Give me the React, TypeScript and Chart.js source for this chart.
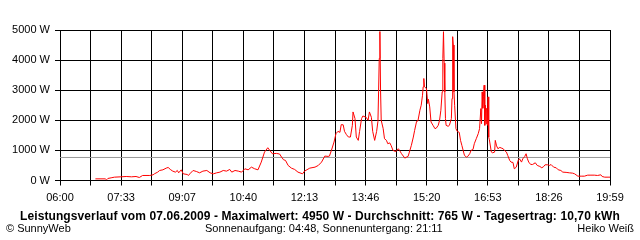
import React, { useEffect, useRef } from "react";
import { Chart, registerables } from "chart.js";

Chart.register(...registerables);

// minutes since midnight
const TIMES = [414,429,431,433,438,443,453,461,469,476,481,486,497,502,504,509,512,517,522,525,529,532,536,539,541,545,548,554,556,558,563,568,573,578,584,589,594,599,604,609,614,619,622,627,632,637,642,647,652,657,662,667,672,677,680,684,690,695,698,701,704,708,713,718,723,730,733,741,749,754,759,764,769,771,774,778,781,784,787,789,792,794,797,800,803,806,807,810,812,815,817,820,822,827,830,832,835,837,840,843,845,846,847,848,849,850,853,855,858,860,863,865,868,871,873,876,878,881,886,888,891,893,896,899,901,904,906,909,911,913,914,915,916,919,921,922,924,926,929,932,934,937,939,941,943,944,945,946,947,948,949,952,954,957,958,959,960,961,962,964,966,969,971,973,975,977,980,982,985,987,990,992,995,998,1000,1002,1003,1004,1005,1006,1007,1008,1009,1010,1011,1012,1013,1014,1015,1018,1020,1023,1024,1026,1028,1031,1033,1036,1038,1041,1043,1046,1048,1051,1053,1056,1059,1061,1064,1066,1069,1071,1073,1075,1078,1081,1085,1088,1092,1095,1098,1100,1104,1107,1109,1113,1117,1120,1124,1127,1132,1137,1142,1145,1150,1155,1160,1165,1170,1175,1180,1185,1187,1191,1196,1199];
const WATTS = [55,55,22,67,89,111,122,133,122,133,100,167,167,189,222,278,333,355,411,433,355,311,278,333,255,355,222,200,167,222,333,300,255,311,333,255,222,255,278,333,311,367,278,333,311,278,389,355,444,389,355,611,944,1089,1000,889,900,880,778,689,667,500,411,367,278,222,311,411,444,500,611,811,800,811,1000,1278,1556,1633,1600,1856,1850,1633,1522,1444,1444,1833,2278,2056,1444,1333,1633,2056,2144,2100,2000,2278,2100,1633,1333,1633,1967,2944,4056,4950,3000,2000,1722,1389,1333,1222,1250,1167,1000,970,970,1056,1000,889,744,770,800,944,1167,1444,1667,1967,1980,2333,2500,2833,3111,3389,3111,3056,2556,2700,2444,1944,1833,1722,1740,1833,2000,2333,2944,4056,4944,3900,2944,2056,1833,1800,1833,2056,2722,4778,4500,2944,2500,1722,1633,1600,1333,1167,1000,833,778,800,889,1000,1030,1222,1389,1556,1722,2389,1889,2944,2400,2800,3167,1833,2500,1889,2400,1833,2778,1444,1350,944,920,944,1333,1150,1056,1100,1080,1056,1000,944,833,667,611,600,389,444,667,722,611,722,800,889,722,611,533,533,589,500,467,422,467,522,522,500,533,444,422,356,333,278,270,255,244,222,144,144,144,178,178,178,167,189,133,111,111,111];

const X_START = 360; // 06:00
const X_END = 1199; // 19:59
const X_TICK_LABELS = ["06:00","07:33","09:07","10:40","12:13","13:46","15:20","16:53","18:26","19:59"];
const Y_MAX = 5000;
const Y_STEP = 1000;
const AVERAGE = 765;

const TITLE = "Leistungsverlauf vom 07.06.2009 - Maximalwert: 4950 W - Durchschnitt: 765 W - Tagesertrag: 10,70 kWh";
const FOOT_LEFT = "© SunnyWeb";
const FOOT_MID = "Sonnenaufgang: 04:48, Sonnenuntergang: 21:11";
const FOOT_RIGHT = "Heiko Weiß";

const FONT = "'Liberation Sans', Arial, sans-serif";

export default function App() {
  const ref = useRef<HTMLCanvasElement | null>(null);
  useEffect(() => {
    const canvas = ref.current;
    if (!canvas) return;
    const nGrid = (X_TICK_LABELS.length - 1) * 2;
    const step = (X_END - X_START) / nGrid;
    const chart = new Chart(canvas, {
      type: "line",
      data: {
        datasets: [
          {
            data: TIMES.map((t, i) => ({ x: t, y: WATTS[i] })),
            borderColor: "#ff0000",
            borderWidth: 1,
            pointRadius: 0,
            tension: 0,
            fill: false,
          },
          {
            data: [
              { x: X_START, y: AVERAGE },
              { x: X_END, y: AVERAGE },
            ],
            borderColor: "#999999",
            borderWidth: 1,
            pointRadius: 0,
            fill: false,
          },
        ],
      },
      options: {
        animation: false,
        responsive: false,
        maintainAspectRatio: false,
        layout: { padding: { left: 0, top: 30, right: 30, bottom: 29.5 } },
        plugins: { legend: { display: false }, tooltip: { enabled: false } },
        scales: {
          x: {
            type: "linear",
            min: X_START,
            max: X_END,
            afterFit: (s: any) => { s.height = 30; },
            afterBuildTicks: (s: any) => {
              const t = [];
              for (let i = 0; i <= nGrid; i++) t.push({ value: i === nGrid ? X_END : X_START + i * step });
              s.ticks = t;
            },
            grid: { color: "#000", lineWidth: 1, tickLength: 5, drawTicks: true },
            border: { color: "#000", width: 1 },
            ticks: {
              autoSkip: false,
              maxRotation: 0,
              color: "#000",
              padding: 6,
              font: { family: FONT, size: 11 },
              callback: (_v: any, i: number) => (i % 2 === 0 ? X_TICK_LABELS[i / 2] : ""),
            },
          },
          y: {
            min: 0,
            max: Y_MAX,
            afterFit: (s: any) => { s.width = 60; },
            grid: { color: "#000", lineWidth: 1, tickLength: 5 },
            border: { color: "#000", width: 1 },
            ticks: {
              stepSize: Y_STEP,
              color: "#000",
              padding: 5,
              font: { family: FONT, size: 11 },
              callback: (v: any) => `${v} W`,
            },
          },
        },
      },
    });
    return () => chart.destroy();
  }, []);

  const txt: React.CSSProperties = { position: "absolute", whiteSpace: "nowrap", color: "#000", fontFamily: FONT };
  return (
    <div style={{ position: "absolute", left: 0, top: 0, width: 640, height: 240, background: "#fff", overflow: "hidden" }}>
      <canvas ref={ref} width={640} height={240} style={{ position: "absolute", left: 0, top: 0, width: 640, height: 240 }} />
      <div style={{ ...txt, left: 0, width: 640, top: 210, textAlign: "center", fontWeight: "bold", fontSize: 12, lineHeight: "12px", letterSpacing: "0.1px" }}>{TITLE}</div>
      <div style={{ ...txt, left: 6, top: 223, fontSize: 11, lineHeight: "11px" }}>{FOOT_LEFT}</div>
      <div style={{ ...txt, left: 205, top: 223, fontSize: 11, lineHeight: "11px" }}>{FOOT_MID}</div>
      <div style={{ ...txt, right: 6, top: 223, fontSize: 11, lineHeight: "11px" }}>{FOOT_RIGHT}</div>
    </div>
  );
}
